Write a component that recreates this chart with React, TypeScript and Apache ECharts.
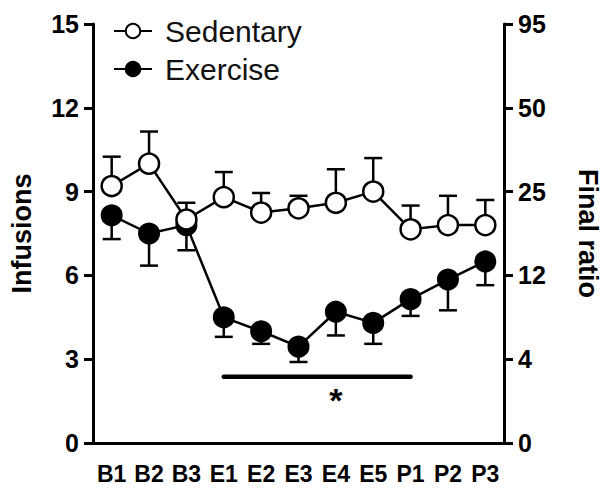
import React, { useEffect, useRef } from "react";
import * as echarts from "echarts";

const categories = ["B1", "B2", "B3", "E1", "E2", "E3", "E4", "E5", "P1", "P2", "P3"];
const sedentaryMean = [9.2, 10.0, 8.0, 8.8, 8.25, 8.4, 8.6, 9.0, 7.65, 7.8, 7.8];
const sedentaryUpper = [10.25, 11.15, 8.6, 9.7, 8.95, 8.85, 9.8, 10.2, 8.5, 8.85, 8.7];
const exerciseMean = [8.15, 7.5, 7.8, 4.5, 4.0, 3.45, 4.7, 4.3, 5.15, 5.85, 6.5];
const exerciseLower = [7.3, 6.35, 6.9, 3.8, 3.55, 2.9, 3.85, 3.55, 4.55, 4.75, 5.65];
const rightTickLabels = ["0", "4", "12", "25", "50", "95"];
const sigStart = 3; // E1
const sigEnd = 8; // P1
const sigLevel = 2.37;
const sigStarLevel = 1.55;

const FONT = "'Liberation Sans', Arial, Helvetica, sans-serif";

export default function App() {
  const ref = useRef<HTMLDivElement>(null);
  useEffect(() => {
    document.body.style.margin = "0";
    const chart = echarts.init(ref.current!, null, { renderer: "svg" });

    const errItem = (means: number[], ends: number[], z: number) => ({
      type: "custom",
      z,
      silent: true,
      data: means.map((m, i) => [i, m, ends[i]]),
      renderItem: (params: any, api: any) => {
        const i = api.value(0);
        const p0 = api.coord([i, api.value(1)]);
        const p1 = api.coord([i, api.value(2)]);
        const hw = 9;
        const style = { stroke: "#000", lineWidth: 2.5, fill: null };
        return {
          type: "group",
          children: [
            { type: "line", shape: { x1: p0[0], y1: p0[1], x2: p1[0], y2: p1[1] }, style },
            { type: "line", shape: { x1: p1[0] - hw, y1: p1[1], x2: p1[0] + hw, y2: p1[1] }, style },
          ],
        };
      },
    });

    chart.setOption({
      animation: false,
      grid: { left: 87, right: 99, top: 24, bottom: 53, containLabel: false },
      legend: {
        orient: "vertical",
        left: 108,
        top: 11,
        itemWidth: 38,
        itemHeight: 18,
        itemGap: 8,
        textStyle: { fontFamily: FONT, fontSize: 30, color: "#111", padding: [0, 0, 0, 8] },
        data: ["Sedentary", "Exercise"],
      },
      xAxis: {
        type: "category",
        data: categories,
        boundaryGap: true,
        axisLine: { lineStyle: { color: "#000", width: 3 } },
        axisTick: { alignWithLabel: true, length: 9, lineStyle: { color: "#000", width: 3 } },
        axisLabel: { fontFamily: FONT, fontWeight: "bold", fontSize: 23, color: "#000", margin: 19, interval: 0 },
      },
      yAxis: [
        {
          type: "value",
          min: 0,
          max: 15,
          interval: 3,
          name: "Infusions",
          nameLocation: "middle",
          nameGap: 58,
          nameTextStyle: { fontFamily: FONT, fontWeight: "bold", fontSize: 27, color: "#000" },
          axisLine: { show: true, lineStyle: { color: "#000", width: 3 } },
          axisTick: { show: true, length: 9, lineStyle: { color: "#000", width: 3 } },
          axisLabel: { fontFamily: FONT, fontWeight: "bold", fontSize: 25, color: "#000", margin: 14 },
          splitLine: { show: false },
        },
        {
          type: "value",
          position: "right",
          min: 0,
          max: 15,
          interval: 3,
          name: "Final ratio",
          nameLocation: "middle",
          nameGap: 70,
          nameRotate: -90,
          nameTextStyle: { fontFamily: FONT, fontWeight: "bold", fontSize: 27, color: "#000" },
          axisLine: { show: true, lineStyle: { color: "#000", width: 3 } },
          axisTick: { show: true, length: 9, lineStyle: { color: "#000", width: 3 } },
          axisLabel: {
            fontFamily: FONT,
            fontWeight: "bold",
            fontSize: 25,
            color: "#000",
            margin: 14,
            formatter: (v: number) => rightTickLabels[Math.round(v / 3)] ?? "",
          },
          splitLine: { show: false },
        },
      ],
      series: [
        errItem(exerciseMean, exerciseLower, 1),
        errItem(sedentaryMean, sedentaryUpper, 1),
        {
          name: "Exercise",
          type: "line",
          z: 3,
          data: exerciseMean,
          symbol: "circle",
          symbolSize: 20,
          lineStyle: { color: "#000", width: 2.5 },
          itemStyle: { color: "#000", borderColor: "#000", borderWidth: 2 },
        },
        {
          name: "Sedentary",
          type: "line",
          z: 4,
          data: sedentaryMean,
          symbol: "circle",
          symbolSize: 20,
          lineStyle: { color: "#000", width: 2.5 },
          itemStyle: { color: "#fff", borderColor: "#000", borderWidth: 2.5 },
        },
        {
          type: "custom",
          z: 2,
          silent: true,
          data: [[sigStart, sigEnd, sigLevel, sigStarLevel]],
          renderItem: (params: any, api: any) => {
            const a = api.coord([api.value(0), api.value(2)]);
            const b = api.coord([api.value(1), api.value(2)]);
            const s = api.coord([(api.value(0) + api.value(1)) / 2, api.value(3)]);
            return {
              type: "group",
              children: [
                {
                  type: "line",
                  shape: { x1: a[0], y1: a[1], x2: b[0], y2: b[1] },
                  style: { stroke: "#000", lineWidth: 4.5, lineCap: "round" },
                },
                {
                  type: "text",
                  x: s[0],
                  y: s[1],
                  style: {
                    text: "*",
                    fontFamily: FONT,
                    fontWeight: "bold",
                    fontSize: 34,
                    fill: "#000",
                    align: "center",
                    verticalAlign: "middle",
                  },
                },
              ],
            };
          },
        },
      ],
    });
    return () => chart.dispose();
  }, []);
  return <div ref={ref} style={{ width: 609, height: 496 }} />;
}
